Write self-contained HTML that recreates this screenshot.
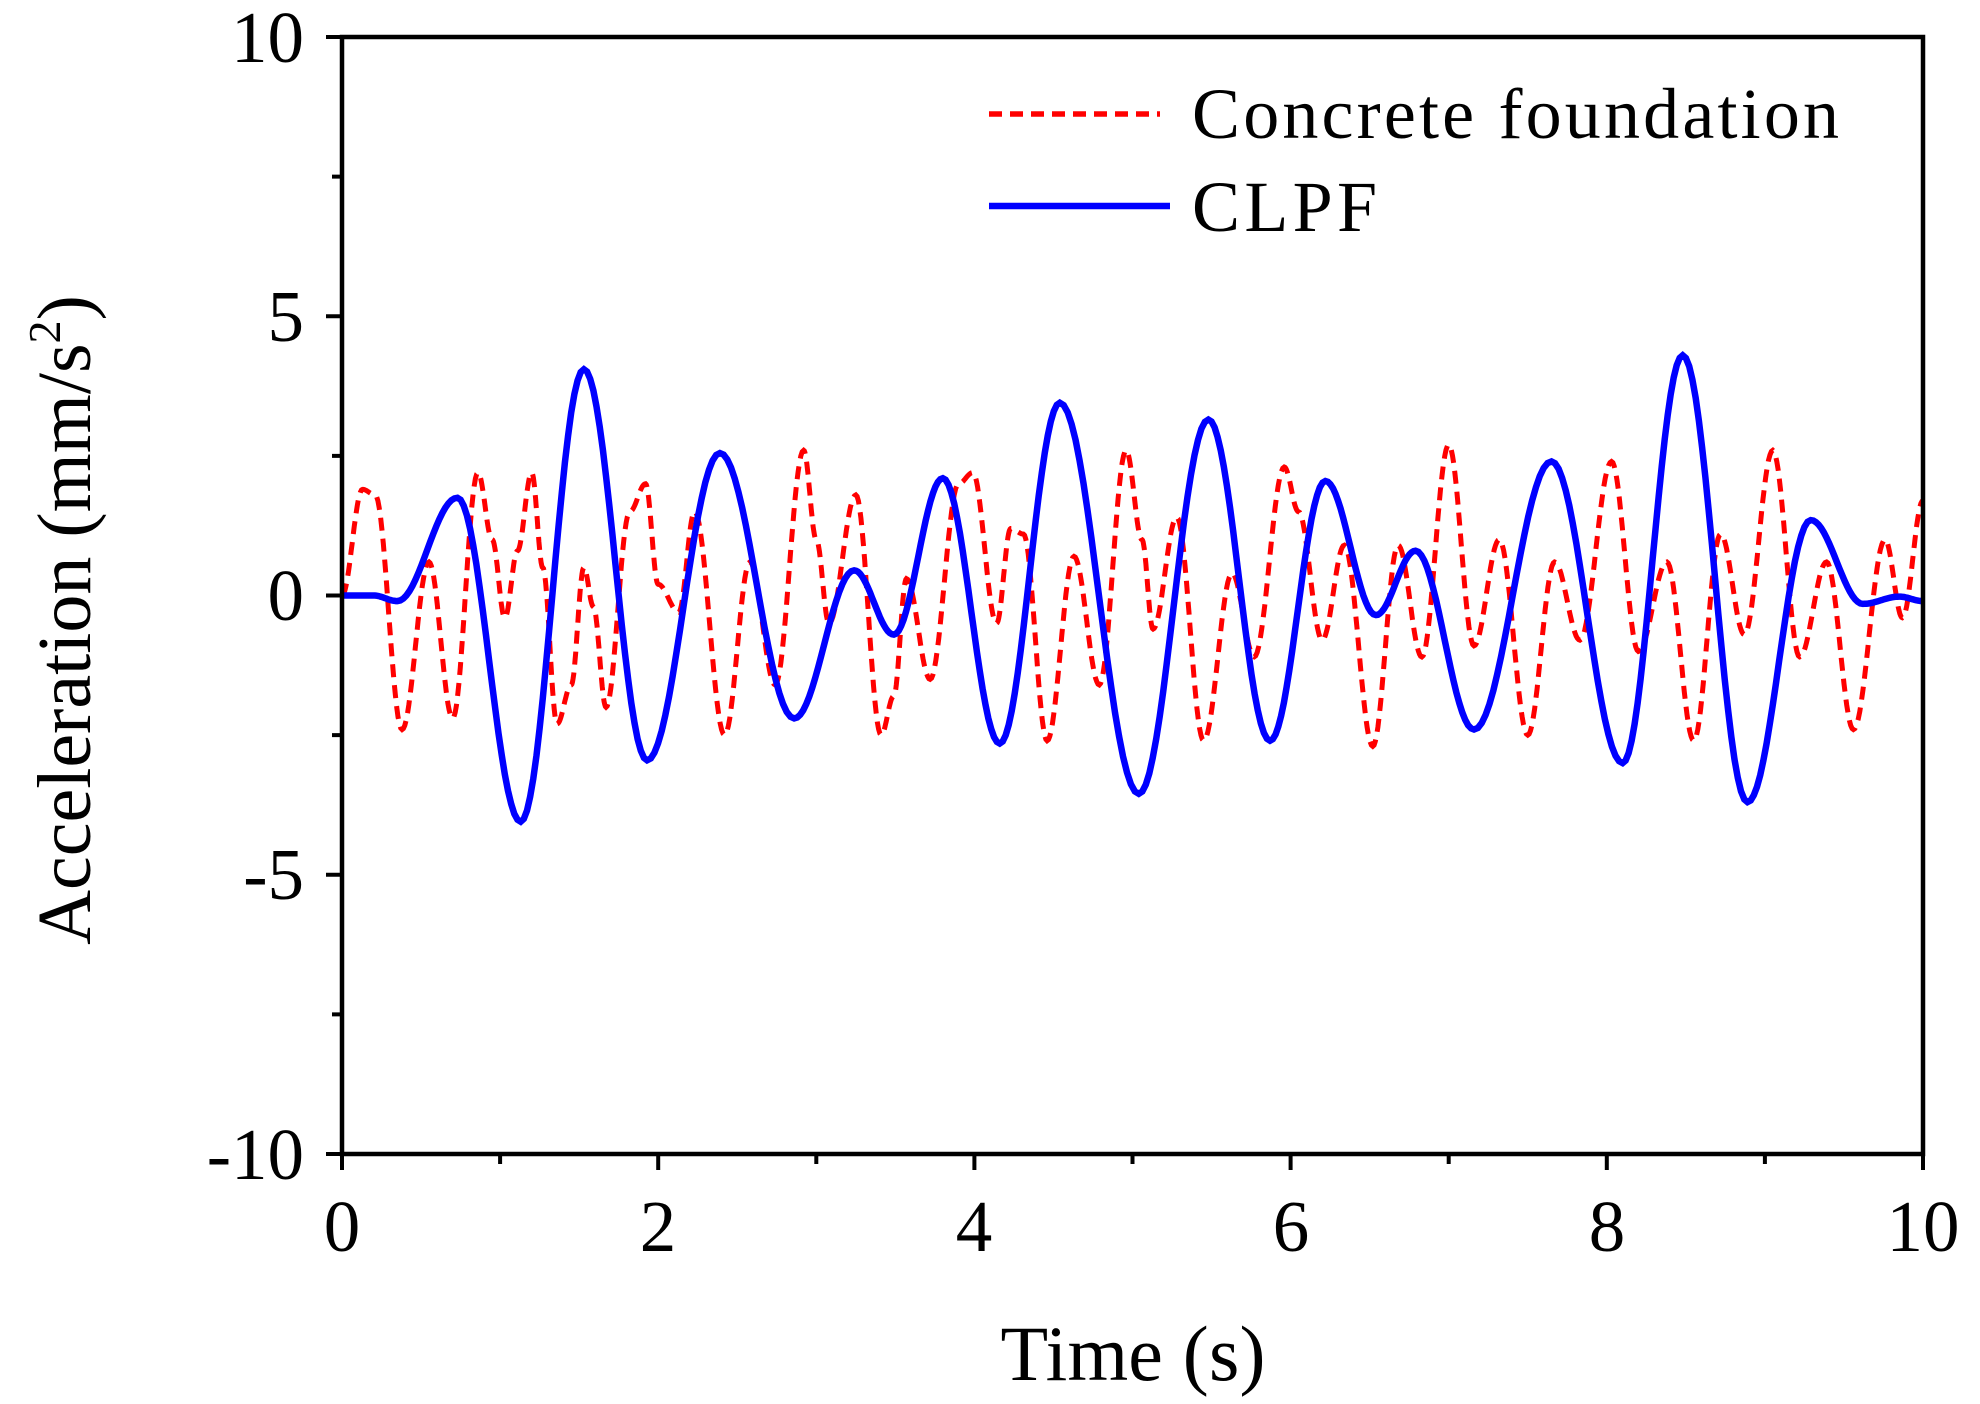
<!DOCTYPE html>
<html><head><meta charset="utf-8"><style>
html,body{margin:0;padding:0;background:#fff;}
svg{display:block;font-family:"Liberation Serif",serif;}
</style></head><body>
<svg id="s" width="1980" height="1404" viewBox="0 0 1980 1404" xmlns="http://www.w3.org/2000/svg">
<g id="curves"></g>
<rect x="342" y="37" width="1581" height="1117" fill="none" stroke="#000" stroke-width="4.5"/>
<g id="ticks" stroke="#000" stroke-width="4"></g>
<g font-size="73" fill="#000">
<text x="304" y="62" text-anchor="end">10</text>
<text x="304" y="341" text-anchor="end">5</text>
<text x="304" y="620" text-anchor="end">0</text>
<text x="304" y="899" text-anchor="end">-5</text>
<text x="304" y="1179" text-anchor="end">-10</text>
<text x="342" y="1251" text-anchor="middle">0</text>
<text x="658" y="1251" text-anchor="middle">2</text>
<text x="974" y="1251" text-anchor="middle">4</text>
<text x="1291" y="1251" text-anchor="middle">6</text>
<text x="1607" y="1251" text-anchor="middle">8</text>
<text x="1923" y="1251" text-anchor="middle">10</text>
</g>
<text x="1133" y="1380" font-size="78" text-anchor="middle" textLength="265">Time (s)</text>
<text transform="translate(90,620) rotate(-90)" font-size="76" text-anchor="middle">Acceleration (mm/s<tspan font-size="46" dy="-30">2</tspan><tspan dy="30">)</tspan></text>
<line x1="989" y1="114" x2="1160" y2="114" stroke="#ff0000" stroke-width="5.5" stroke-dasharray="13,8"/>
<text x="1192" y="138" font-size="72" textLength="647">Concrete foundation</text>
<line x1="989" y1="206" x2="1170" y2="206" stroke="#0000ff" stroke-width="6.5"/>
<text x="1192" y="231" font-size="72" textLength="185">CLPF</text>
</svg>
<script>
var X0=342,XS=158.1,Y0=595.5,YS=55.85;
function path(pts){
 var d="";
 for(var i=0;i<pts.length-1;i++){
  var a=pts[i],b=pts[i+1];
  for(var k=0;k<=20;k++){
   if(i>0&&k==0)continue;
   var f=k/20,t=a[0]+(b[0]-a[0])*f,v=a[1]+(b[1]-a[1])*(1-Math.cos(Math.PI*f))/2;
   d+=(d?"L":"M")+(X0+t*XS).toFixed(1)+","+(Y0-v*YS).toFixed(1);
  }
 }
 return d;
}
var blue=[[0,0],[0.2,0],[0.35,-0.1],[0.73,1.75],[1.13,-4.05],[1.53,4.05],[1.93,-2.95],[2.39,2.55],[2.86,-2.2],[3.24,0.45],[3.49,-0.7],[3.8,2.1],[4.16,-2.65],[4.54,3.45],[5.04,-3.55],[5.48,3.15],[5.87,-2.6],[6.22,2.05],[6.54,-0.35],[6.79,0.8],[7.16,-2.4],[7.65,2.4],[8.1,-3.0],[8.48,4.3],[8.89,-3.7],[9.29,1.35],[9.62,-0.15],[9.85,-0.02],[10,-0.1]];
var red=[[0,0],[0.13,1.9],[0.21,1.8],[0.38,-2.4],[0.55,0.6],[0.7,-2.2],[0.86,2.2],[0.95,1.0],[1.03,-0.4],[1.11,0.8],[1.2,2.2],[1.27,0.5],[1.36,-2.3],[1.45,-1.6],[1.53,0.5],[1.59,-0.2],[1.67,-2.0],[1.82,1.5],[1.92,2.0],[2.0,0.2],[2.13,-0.3],[2.23,1.5],[2.42,-2.5],[2.58,0.6],[2.74,-1.6],[2.92,2.6],[3.0,1.0],[3.08,-0.5],[3.25,1.8],[3.41,-2.5],[3.49,-1.8],[3.57,0.3],[3.72,-1.5],[3.9,2.0],[3.99,2.2],[4.14,-0.5],[4.23,1.2],[4.31,1.1],[4.46,-2.6],[4.63,0.7],[4.79,-1.6],[4.96,2.6],[5.06,1.0],[5.13,-0.6],[5.28,1.4],[5.45,-2.6],[5.63,0.4],[5.77,-1.1],[5.96,2.3],[6.05,1.5],[6.2,-0.8],[6.34,0.9],[6.52,-2.7],[6.68,0.9],[6.83,-1.1],[7.0,2.7],[7.16,-0.9],[7.32,1.0],[7.5,-2.5],[7.67,0.6],[7.83,-0.8],[8.03,2.4],[8.2,-1.0],[8.38,0.6],[8.55,-2.6],[8.72,1.1],[8.87,-0.7],[9.05,2.6],[9.22,-1.1],[9.39,0.6],[9.56,-2.4],[9.76,1.0],[9.87,-0.4],[10,1.7]];
var g=document.getElementById("curves"),ns="http://www.w3.org/2000/svg";
var p1=document.createElementNS(ns,"path");p1.setAttribute("d",path(red));p1.setAttribute("fill","none");p1.setAttribute("stroke","#ff0000");p1.setAttribute("stroke-width","5");p1.setAttribute("stroke-dasharray","13,8");g.appendChild(p1);
var p2=document.createElementNS(ns,"path");p2.setAttribute("d",path(blue));p2.setAttribute("fill","none");p2.setAttribute("stroke","#0000ff");p2.setAttribute("stroke-width","6.5");g.appendChild(p2);
var tk=document.getElementById("ticks"),h="";
for(var i=0;i<=10;i++){var x=X0+i*XS,L=(i%2==0)?16:10;h+='<line x1="'+x+'" y1="1154" x2="'+x+'" y2="'+(1154+L)+'"/>';}
for(var j=0;j<=8;j++){var y=37+j*139.625,L=(j%2==0)?16:10;h+='<line x1="342" y1="'+y+'" x2="'+(342-L)+'" y2="'+y+'"/>';}
tk.innerHTML=h;
</script>
</body></html>
